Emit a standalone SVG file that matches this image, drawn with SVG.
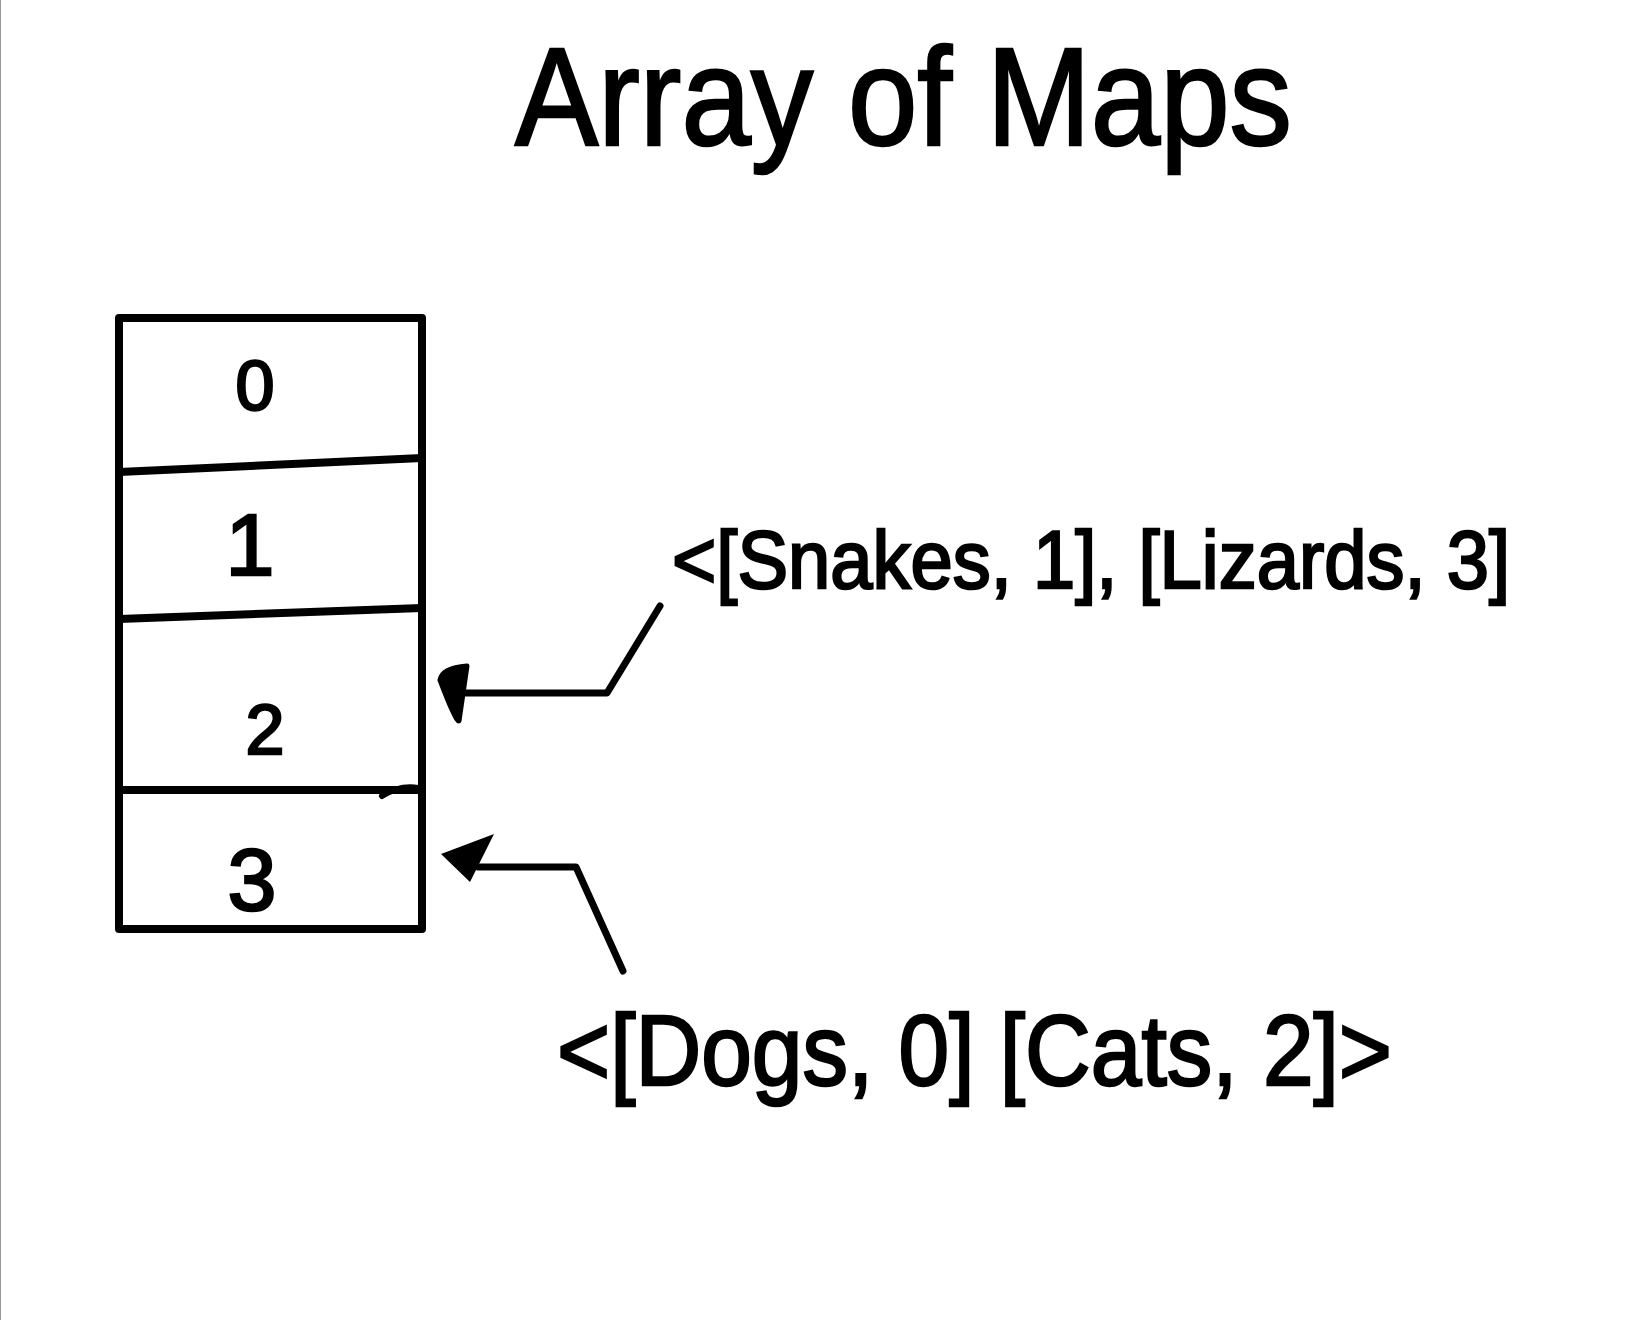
<svg xmlns="http://www.w3.org/2000/svg" width="1647" height="1320" viewBox="0 0 1647 1320">
<defs>
<style>
.hw{font-family:"Liberation Sans","DejaVu Sans",sans-serif;fill:#000;stroke:#000;stroke-width:2.5}
.ln{fill:none;stroke:#000;stroke-linecap:round;stroke-linejoin:round}
.box{stroke-width:8}
.conn{stroke-width:7}
</style>
</defs>
<rect width="1647" height="1320" fill="#fff"/>
<line x1="0.5" y1="0" x2="0.5" y2="1320" stroke="#999" stroke-width="1"/>
<text id="title" class="hw" x="515" y="145" font-size="140" textLength="777" lengthAdjust="spacingAndGlyphs">Array of Maps</text>
<g id="array">
<path class="ln box" d="M119 318 H422 V929 H119 Z"/>
<path class="ln box" d="M119 472 L422 458"/>
<path class="ln box" d="M119 619 L422 608"/>
<path class="ln box" d="M119 790 L418 790"/>
<path class="ln" stroke-width="6" d="M382 796 Q400 785 418 788"/>
</g>
<g id="cell0"><text class="hw" x="255" y="410" font-size="70" text-anchor="middle">0</text></g>
<g id="cell1"><text class="hw" x="250" y="575" font-size="88" text-anchor="middle">1</text></g>
<g id="cell2"><text class="hw" x="265" y="754" font-size="70" text-anchor="middle">2</text></g>
<g id="cell3"><text class="hw" x="252" y="910" font-size="88" text-anchor="middle">3</text></g>
<g id="map1"><text class="hw" x="672" y="588" font-size="82" textLength="838" lengthAdjust="spacingAndGlyphs">&lt;[Snakes, 1], [Lizards, 3]</text></g>
<g id="map2"><text class="hw" x="557" y="1085" font-size="100" textLength="835" lengthAdjust="spacingAndGlyphs">&lt;[Dogs, 0] [Cats, 2]&gt;</text></g>
<g id="connectors">
<path class="ln conn" d="M660 606 L607 693 L466 693"/>
<path d="M440 680 Q442 668 467 666 L459 721 Q456 722 440 680 Z" fill="#000" stroke="#000" stroke-width="5" stroke-linejoin="round"/>
<path class="ln conn" d="M623 971 L576 867 L478 867"/>
<path d="M441 854 L494 834 L470 882 Z" fill="#000"/>
</g>
</svg>
